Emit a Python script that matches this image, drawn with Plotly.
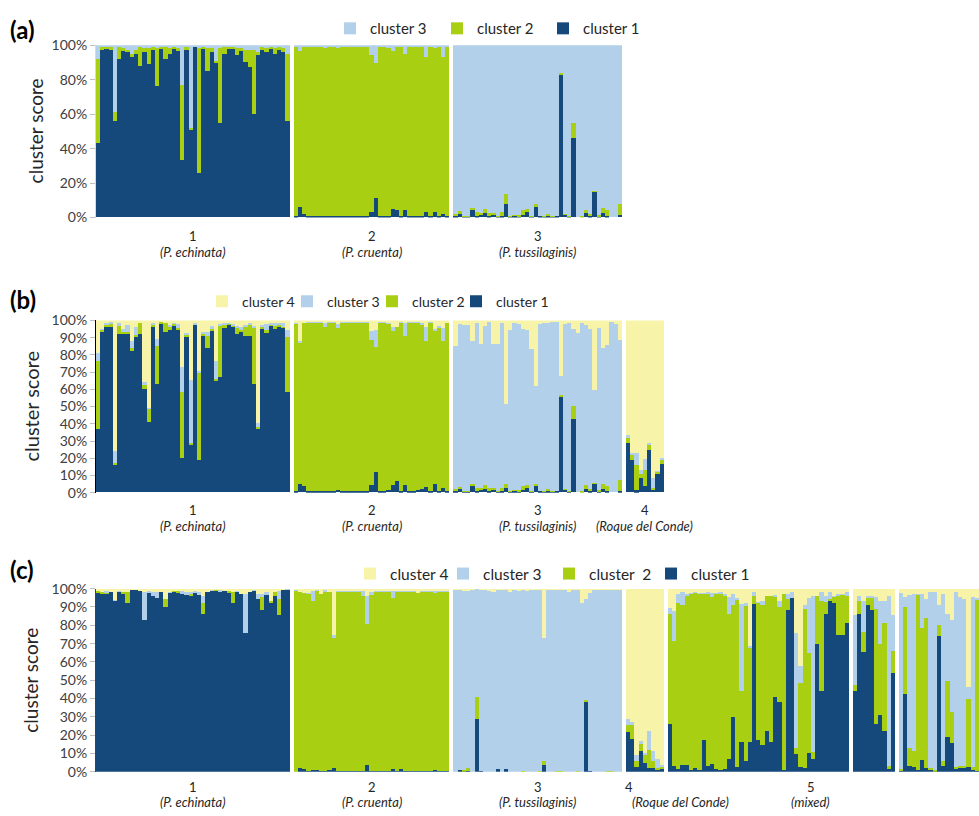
import plotly.graph_objects as go

# ---------------- data ----------------
CLUSTERS = ["cluster 1", "cluster 2", "cluster 3", "cluster 4"]
CLUSTERS_C = ["cluster 1", "cluster\u00a0 2", "cluster 3", "cluster 4"]
COLORS = ["#16497B", "#A8CF12", "#B2D0EA", "#F7F4AA"]
GROUP_NUMBERS = ["1", "2", "3", "4", "5"]
GROUP_NAMES = ["(P. echinata)", "(P. cruenta)", "(P. tussilaginis)", "(Roque del Conde)", "(mixed)"]
TICKS_A = [0, 0.2, 0.4, 0.6, 0.8, 1.0]
TICKS_BC = [0, 0.1, 0.2, 0.3, 0.4, 0.5, 0.6, 0.7, 0.8, 0.9, 1.0]

# ---- panel (a): K = 3 ----
A1_C1 = [.43,.97,.98,.97,.56,.92,.97,.96,.93,.95,.88,.96,.89,.97,.76,.98,.92,.95,.98,.97,.33,.97,.51,.99,.26,.98,.85,.96,.90,.55,.95,.98,.98,.94,.97,.90,.87,.60,.94,.97,.96,.98,.95,.97,.96,.56]
A1_C2 = [.49,.02,.01,.02,.05,.07,.01,.01,.02,.02,.11,.02,.09,.02,.22,.01,.07,.03,.01,.01,.44,.02,.01,0,.72,.01,.13,.02,.01,.43,.04,.01,.01,.04,.01,.07,.10,.37,.02,.02,.02,.01,.03,.02,.02,.39]
A1_C3 = [.08,.01,.01,.01,.39,.01,.02,.03,.05,.03,.01,.02,.02,.01,.02,.01,.01,.02,.01,.02,.23,.01,.48,.01,.02,.01,.02,.02,.09,.02,.01,.01,.01,.02,.02,.03,.03,.03,.04,.01,.02,.01,.02,.01,.02,.05]

A2_C1 = [.005,.06,.02,.005,.005,.005,.005,.005,.005,.005,.01,.005,.005,.005,.005,.005,.005,.005,.03,.11,.005,.005,.005,.05,.045,.005,.04,.005,.005,.01,.01,.03,.005,.03,.005,.02,.005]
A2_C2 = [.985,.905,.97,.985,.985,.985,.985,.975,.985,.985,.97,.985,.985,.985,.985,.985,.985,.985,.91,.785,.985,.985,.98,.915,.945,.985,.91,.985,.985,.98,.98,.90,.985,.955,.985,.91,.985]
A2_C3 = [.01,.035,.01,.01,.01,.01,.01,.02,.01,.01,.02,.01,.01,.01,.01,.01,.01,.01,.06,.105,.01,.01,.015,.035,.01,.01,.05,.01,.01,.01,.01,.07,.01,.015,.01,.07,.01]

A3_C1 = [.01,.025,.005,.005,.04,.01,.015,.025,.01,.015,.005,.005,.08,.005,.01,.005,.015,.03,.005,.06,.01,.005,.01,.005,.005,.83,.015,.005,.46,0,0,.025,.01,.15,.005,.025,.01,0,0,.015]
A3_C2 = [.01,.01,.005,.005,.015,.02,.01,.025,.015,.01,.005,.025,.055,.005,.005,.01,.03,.02,.005,.02,0,.005,.01,.005,0,.01,.005,.005,.09,0,.005,.02,.01,.005,.01,.03,.03,0,0,.06]
A3_C3 = [.98,.965,.99,.99,.945,.97,.975,.95,.975,.975,.99,.97,.865,.99,.985,.985,.955,.95,.99,.92,.99,.99,.98,.99,.995,.16,.98,.99,.45,1.0,.995,.955,.98,.845,.985,.945,.96,1.0,1.0,.925]

# ---- panel (b): K = 4 ----
B1_C1 = [.37,.93,.96,.96,.16,.92,.92,.92,.82,.90,.92,.60,.41,.96,.63,.98,.93,.94,.97,.94,.20,.90,.28,.975,.19,.91,.84,.94,.65,.67,.955,.975,.965,.92,.935,.905,.905,.63,.37,.945,.93,.97,.95,.965,.955,.58]
B1_C2 = [.39,.015,.015,.015,.01,.05,.01,.01,.02,.015,.06,.02,.075,.015,.22,.01,.05,.02,.01,.015,.38,.015,.005,0,.505,.01,.065,.01,.005,.30,.02,.005,.005,.035,.005,.055,.07,.325,.01,.015,.01,.005,.02,.01,.005,.32]
B1_C3 = [.05,.005,.005,.015,.07,.01,.02,.04,.04,.045,0,.02,.005,.005,.04,0,0,.01,.005,.02,.15,.01,.365,.005,.01,.01,.025,.015,.105,.005,.005,.005,.005,.01,.02,.01,.005,.01,.02,.01,.035,.01,.01,.01,.025,.04]
B1_C4 = [.19,.05,.02,.01,.76,.02,.05,.03,.12,.04,.02,.36,.51,.02,.11,.01,.02,.03,.015,.025,.27,.075,.35,.02,.295,.07,.07,.035,.24,.025,.02,.015,.025,.035,.04,.03,.02,.035,.60,.03,.025,.015,.02,.015,.015,.06]

B2_C1 = [.005,.05,.035,.005,.005,.005,.005,.01,.005,.005,.015,.005,.005,.005,.005,.005,.01,.005,.045,.12,.01,.01,.015,.04,.065,.005,.045,.01,.01,.015,.02,.03,.005,.05,.01,.025,.005]
B2_C2 = [.975,.815,.95,.98,.98,.98,.98,.95,.98,.98,.94,.98,.98,.98,.98,.98,.975,.98,.838,.723,.975,.975,.962,.894,.897,.98,.865,.975,.975,.97,.954,.85,.98,.886,.948,.855,.975]
B2_C3 = [.005,.015,0,.005,.005,.005,.005,.025,.005,.005,.02,.005,.005,.005,.005,.005,.005,.005,.053,.097,.005,.005,.005,.028,0,.005,.07,.005,.005,.005,.006,.08,.005,.014,.007,.075,0]
B2_C4 = [.015,.12,.015,.01,.01,.01,.01,.015,.01,.01,.025,.01,.01,.01,.01,.01,.01,.01,.064,.06,.01,.01,.02,.038,.038,.01,.02,.01,.01,.01,.02,.04,.01,.05,.035,.045,.02]

B3_C1 = [.01,.02,.005,.005,.034,.01,.015,.02,.01,.015,.005,.005,.026,.005,.01,.005,.015,.025,.005,.034,.01,.005,.01,.005,.005,.556,.015,.005,.423,0,0,.02,.01,.05,.005,.02,.01,0,0,.01]
B3_C2 = [.01,.01,.005,.005,.013,.015,.01,.02,.015,.01,.005,.02,.024,.005,.005,.01,.02,.02,.005,.016,0,.005,.01,.005,0,.008,.005,.005,.077,0,.005,.02,.01,.005,.01,.03,.025,0,0,.06]
B3_C3 = [.828,.944,.96,.96,.833,.955,.835,.928,.962,.835,.85,.96,.463,.93,.97,.962,.91,.895,.823,.565,.964,.975,.963,.977,.984,.113,.954,.97,.45,.927,.978,.93,.925,.539,.94,.788,.82,.989,.974,.813]
B3_C4 = [.152,.026,.03,.03,.12,.02,.14,.032,.013,.14,.14,.015,.487,.06,.015,.023,.055,.06,.167,.385,.026,.015,.017,.013,.011,.323,.026,.02,.05,.073,.017,.03,.055,.406,.045,.162,.145,.011,.026,.117]

B4_C1 = [.284,.186,.011,.085,.038,.244,.015,.105,.162]
B4_C2 = [.03,.036,.145,.024,.09,.03,.009,.013,.028]
B4_C3 = [.019,.004,.071,.023,.064,.012,.057,.006,.01]
B4_C4 = [.667,.774,.773,.868,.808,.714,.919,.876,.80]

# ---- panel (c): K = 4 ----
C1_C1 = [.982,.973,.977,.986,.937,.986,.973,.923,.996,.996,.993,.83,.977,.96,.952,.986,.90,.982,.986,.982,.977,.968,.96,.977,.968,.865,.986,.99,.99,.986,.99,.982,.925,.986,.973,.758,.986,.99,.946,.884,.968,.925,.964,.857,.996,.996]
C1_C2 = [.008,.01,.005,0,0,0,.013,.063,0,0,0,0,0,0,0,0,.046,0,.004,.005,0,0,.013,0,0,.06,0,0,.005,0,0,.008,.057,0,0,0,0,0,0,.071,0,.012,.018,.089,0,0]
C1_C3 = [0,0,.005,0,.005,.005,0,0,0,0,0,.156,.015,.022,.03,0,0,.004,0,0,.01,.014,.009,.013,.018,.039,0,.005,0,.01,0,0,0,.004,0,.215,0,.005,.027,.015,.018,0,0,.044,0,.004]
C1_C4 = [.01,.017,.013,.014,.058,.009,.014,.014,.004,.004,.007,.014,.008,.018,.018,.014,.054,.014,.01,.013,.013,.018,.018,.01,.014,.036,.014,.005,.005,.004,.01,.01,.018,.01,.027,.027,.014,.005,.027,.03,.014,.063,.018,.01,.004,0]

C2_C1 = [0,.02,.015,.005,.01,.01,.005,.005,.01,.02,.005,.005,.005,.005,.005,.005,.005,.04,.005,.005,.005,.005,.005,.015,.005,.015,.005,.005,.005,.005,.005,.005,.005,.01,.005,.005,.005]
C2_C2 = [.99,.966,.962,.97,.927,.98,.97,.98,.976,.715,.98,.98,.98,.98,.98,.98,.959,.77,.963,.98,.98,.98,.98,.937,.98,.97,.98,.98,.98,.973,.98,.98,.98,.968,.98,.98,.98]
C2_C3 = [.005,0,0,.005,.053,.005,0,.01,0,.015,.005,.005,.005,.005,.005,.005,.026,.154,.017,.005,.005,.005,.005,.038,.005,.005,.005,.005,.005,0,.005,.005,.005,.012,.005,.005,.005]
C2_C4 = [.005,.014,.023,.02,.01,.005,.025,.005,.014,.25,.01,.01,.01,.01,.01,.01,.01,.036,.015,.01,.01,.01,.01,.01,.01,.01,.01,.01,.01,.022,.01,.01,.01,.01,.01,.01,.01]

C3_C1 = [0,.01,.005,.005,0,.289,.005,0,0,0,.015,0,.015,0,0,0,0,0,0,0,0,.038,0,0,0,0,0,0,0,0,0,.382,.005,0,0,0,0,0,0,0]
C3_C2 = [0,0,.005,.02,0,.121,0,0,0,0,0,0,0,0,0,0,.005,0,0,0,.005,.021,0,0,.005,.005,0,0,0,.005,0,.014,0,0,0,0,.005,.005,0,0]
C3_C3 = [.995,.985,.98,.965,.995,.59,.99,.995,.99,.985,.98,.995,.98,.985,.995,.99,.99,.99,.995,.995,.99,.671,.995,.995,.99,.99,.995,.985,.995,.99,.925,.55,.973,.995,.995,.995,.99,.99,.995,.995]
C3_C4 = [.005,.005,.01,.01,.005,0,.005,.005,.01,.015,.005,.005,.005,.015,.005,.01,.005,.01,.005,.005,.005,.27,.005,.005,.005,.005,.005,.015,.005,.005,.075,.054,.022,.005,.005,.005,.005,.005,.005,.005]

C4_C1 = [.219,.183,.027,.116,.052,.02,.022,.013,.018]
C4_C2 = [.037,.073,.032,.04,.039,.102,.037,.009,.011]
C4_C3 = [.036,.018,.032,.014,.013,.102,.054,.05,.012]
C4_C4 = [.708,.726,.909,.83,.896,.776,.887,.928,.959]

C5A_C1 = [.262,.032,.018,.041,.041,.014,.02,.014,.176,.032,.047,.018,.01,.018,.073,.301,.027,.167,.059,.167,.919,.176,.149,.226,.163,.409,.382,.01,.883,.95,.10,.029,.023,.104,.073,.699,.444,.866,.937,.925,.749,.749,.812]
C5A_C2 = [.604,.685,.907,.869,.923,.963,.96,.959,.797,.941,.908,.955,.967,.942,.793,.613,.916,.277,.848,.51,.041,.752,.765,.738,.801,.551,.519,.963,.063,0,.031,.46,.869,.547,.035,.265,.493,.062,.009,.035,.215,.219,.148]
C5A_C3 = [.03,.161,.048,.072,.011,.003,.005,.007,.007,.009,.022,.007,.005,.013,.089,.059,.007,.472,.018,.013,.022,.002,.023,0,0,.008,.036,.002,.027,.032,.627,.09,.018,.299,.856,0,.045,.036,.04,.004,.006,.007,.022]
C5A_C4 = [.104,.122,.027,.018,.025,.02,.015,.02,.02,.018,.023,.02,.018,.027,.045,.027,.05,.084,.075,.31,.018,.07,.063,.036,.036,.032,.063,.025,.027,.018,.242,.421,.09,.05,.036,.036,.018,.036,.014,.036,.03,.025,.018]

C5B_C1 = [.444,.866,.656,.91,.887,.265,.31,.226,.018,.543]
C5B_C2 = [.033,.066,.111,.045,.063,.627,.389,.591,.018,.12]
C5B_C3 = [.383,.028,.165,.009,.014,.063,.238,.116,.928,.197]
C5B_C4 = [.14,.04,.068,.036,.036,.045,.063,.067,.036,.14]

C5C_C1 = [.005,.427,.032,.029,.011,.068,.023,.014,.005,.746,.032,.194,.158,.018,.023,.023,.027,.011,.005]
C5C_C2 = [.013,.474,.099,.084,.957,.717,.819,.009,.005,.057,.027,.301,.17,.009,.009,.009,.373,.016,.938]
C5C_C3 = [.96,.054,.837,.86,.002,.188,.104,.959,.976,.107,.914,.371,.502,.959,.923,.914,.066,.928,.007]
C5C_C4 = [.022,.045,.032,.027,.03,.027,.054,.018,.014,.09,.027,.134,.17,.014,.045,.054,.534,.045,.05]

PANEL_A = [[A1_C1, A1_C2, A1_C3], [A2_C1, A2_C2, A2_C3], [A3_C1, A3_C2, A3_C3]]
PANEL_B = [[B1_C1, B1_C2, B1_C3, B1_C4], [B2_C1, B2_C2, B2_C3, B2_C4],
           [B3_C1, B3_C2, B3_C3, B3_C4], [B4_C1, B4_C2, B4_C3, B4_C4]]
PANEL_C = [[C1_C1, C1_C2, C1_C3, C1_C4], [C2_C1, C2_C2, C2_C3, C2_C4],
           [C3_C1, C3_C2, C3_C3, C3_C4], [C4_C1, C4_C2, C4_C3, C4_C4],
           [C5A_C1, C5A_C2, C5A_C3, C5A_C4], [C5B_C1, C5B_C2, C5B_C3, C5B_C4],
           [C5C_C1, C5C_C2, C5C_C3, C5C_C4]]

# ---------------- layout helpers ----------------
W, H = 979, 816
GAP = 0.95
FONT = "Lato, 'Open Sans', sans-serif"
TXT = "#262626"


def place(groups):
    xs, starts, pos = [], [], 0.0
    for g in groups:
        n = len(g[0])
        starts.append(pos)
        xs.append([pos + i for i in range(n)])
        pos += n + GAP
    return xs, starts


def py(px):
    return 1 - px / H


def pxx(px):
    return px / W


fig = go.Figure()

panels = [
    dict(groups=PANEL_A, k=3, ax="", names=CLUSTERS, legend="legend", lw=[70, 61, 62]),
    dict(groups=PANEL_B, k=4, ax="2", names=CLUSTERS, legend="legend2", lw=[60, 39, 40, 40]),
    dict(groups=PANEL_C, k=4, ax="3", names=CLUSTERS_C, legend="legend3", lw=[70, 57, 61, 48]),
]

starts_all = []
for p in panels:
    xs, starts = place(p["groups"])
    starts_all.append((xs, starts))
    xflat = [x for g in xs for x in g]
    for k in range(p["k"]):
        yflat = [v for g in p["groups"] for v in g[k]]
        fig.add_trace(go.Bar(
            x=xflat, y=yflat, width=1, name=p["names"][k],
            marker=dict(color=COLORS[k], line=dict(width=0)),
            xaxis="x" + p["ax"], yaxis="y" + p["ax"],
            legend=p["legend"], legendwidth=p["lw"][k],
            hovertemplate="%{y:.0%}<extra>" + CLUSTERS[k] + "</extra>",
        ))

xs_c, st_c = starts_all[2]
xmax = xs_c[-1][-1] + 0.5
XDOM = [pxx(96), 1.0]

ydoms = [[py(213), py(37)], [py(494), py(318)], [py(779), py(592)]]
linecolors = ["#D9D9D9", "#000000", "#404040"]
tickvals = [TICKS_A, TICKS_BC, TICKS_BC]

layout = dict(
    width=W, height=H, margin=dict(l=0, r=0, t=0, b=0),
    paper_bgcolor="white", plot_bgcolor="white",
    barmode="stack", bargap=0,
    font=dict(family=FONT, color=TXT),
)
for i, ax in enumerate(["", "2", "3"]):
    layout["xaxis" + ax] = dict(domain=XDOM, range=[-0.5, xmax], anchor="y" + ax,
                                showgrid=False, zeroline=False, showline=False,
                                showticklabels=False, ticks="", fixedrange=True)
    layout["yaxis" + ax] = dict(domain=ydoms[i], range=[0, 1], anchor="x" + ax,
                                tickvals=tickvals[i], tickformat=".0%",
                                showgrid=False, zeroline=False, showline=True,
                                linecolor=linecolors[i], linewidth=1,
                                ticks="outside", ticklen=5, tickcolor="#BFBFBF",
                                tickfont=dict(size=14, color="#404040"), fixedrange=True)

layout["legend"] = dict(orientation="h", x=pxx(330), y=py(20), xanchor="left", yanchor="middle",
                        traceorder="reversed", font=dict(size=15, color=TXT), bgcolor="rgba(0,0,0,0)")
layout["legend2"] = dict(orientation="h", x=pxx(202), y=py(299), xanchor="left", yanchor="middle",
                         traceorder="reversed", font=dict(size=14, color=TXT), bgcolor="rgba(0,0,0,0)")
layout["legend3"] = dict(orientation="h", x=pxx(350), y=py(577), xanchor="left", yanchor="middle",
                         traceorder="reversed", font=dict(size=15.5, color=TXT), bgcolor="rgba(0,0,0,0)")

ann = []
for lab, ypx in [("(a)", 21), ("(b)", 297), ("(c)", 572)]:
    ann.append(dict(text="<b>" + lab + "</b>", x=pxx(8), y=py(ypx), xref="paper", yref="paper",
                    xanchor="left", yanchor="middle", showarrow=False,
                    font=dict(size=24, color="#000000")))
for ypx, xpx, fs in [(125, 35, 19), (406, 31, 20), (686, 31, 19)]:
    ann.append(dict(text="cluster score", x=pxx(xpx), y=py(ypx), xref="paper", yref="paper",
                    xanchor="center", yanchor="middle", textangle=-90, showarrow=False,
                    font=dict(size=fs, color=TXT)))


def group_labels(xref, xs, idxs, ynum, yname, xnum=None, xname=None, anchors=("center", "center")):
    for gi, pos in idxs:
        cx = (xs[pos][0] + xs[pos][-1]) / 2
        ann.append(dict(text=GROUP_NUMBERS[gi], x=cx if xnum is None else xnum, y=py(ynum),
                        xref=xref, yref="paper", xanchor=anchors[0], yanchor="middle",
                        showarrow=False, font=dict(size=13, color=TXT)))
        ann.append(dict(text="<i>" + GROUP_NAMES[gi] + "</i>", x=cx if xname is None else xname,
                        y=py(yname), xref=xref, yref="paper", xanchor=anchors[1], yanchor="middle",
                        showarrow=False, font=dict(size=13, color=TXT)))


xs_a, _ = starts_all[0]
xs_b, _ = starts_all[1]
group_labels("x", xs_a, [(0, 0), (1, 1), (2, 2)], 232, 248)
group_labels("x2", xs_b, [(0, 0), (1, 1), (2, 2), (3, 3)], 512, 528)
group_labels("x3", xs_c, [(0, 0), (1, 1), (2, 2)], 795, 810)
group_labels("x3", xs_c, [(3, 3)], 795, 810, xnum=xs_c[3][0] + 0.3, xname=xs_c[3][0] + 0.4,
             anchors=("center", "left"))
group_labels("x3", xs_c, [(4, 4)], 795, 810, xnum=xs_c[4][0] + 33.5, xname=xs_c[4][0] + 33.5)

layout["annotations"] = ann
fig.update_layout(**layout)

fig.write_html("out.html", config={"displayModeBar": False},
               post_script="document.body.style.margin='0';")
